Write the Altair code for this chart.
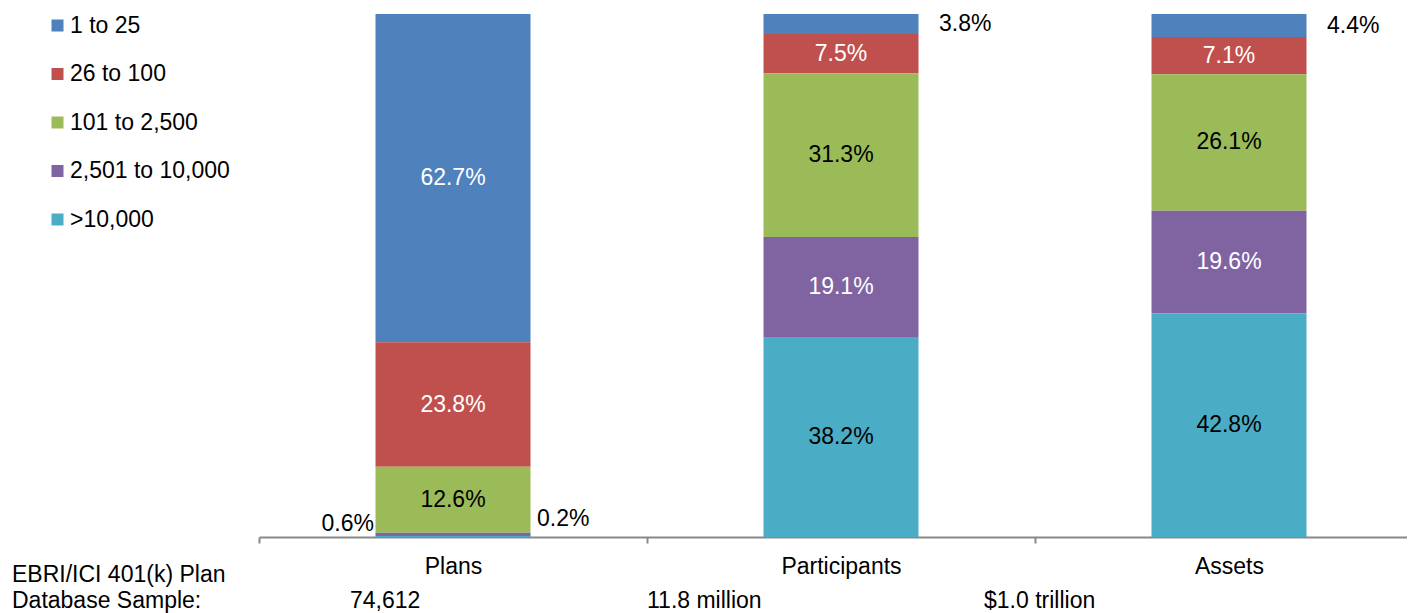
import json
import altair as alt
import pandas as pd

categories = ["Plans", "Participants", "Assets"]
groups = ["1 to 25", "26 to 100", "101 to 2,500", "2,501 to 10,000", ">10,000"]
colors = ["#4F81BD", "#C0504D", "#9BBB59", "#8064A2", "#4BACC6"]
plans = [62.7, 23.8, 12.6, 0.6, 0.2]
participants = [3.8, 7.5, 31.3, 19.1, 38.2]
assets = [4.4, 7.1, 26.1, 19.6, 42.8]
sample_title = ["EBRI/ICI 401(k) Plan", "Database Sample:"]
sample_sizes = ["74,612", "11.8 million", "$1.0 trillion"]

FONT = "Liberation Sans"
FS = 23
W = 1148          # plot width in px
STEP = 388        # px per category slot (last slot runs past the picture edge)

rows = []
for cat, vals in zip(categories, [plans, participants, assets]):
    for i, (g, v) in enumerate(zip(groups, vals)):
        rows.append(dict(category=cat, group=g, value=v,
                         k=len(groups) - 1 - i, label=f"{v:.1f}%"))
df = pd.DataFrame(rows)

cats_js = json.dumps(categories)
pos_expr = f"indexof({cats_js}, datum.category) + 0.5"

xscale = alt.Scale(domain=[0, W / STEP], nice=False, zero=False, padding=0)
xaxis = alt.Axis(
    title=None, values=[0, 0.5, 1, 1.5, 2, 2.5],
    labelExpr=f"datum.value % 1 ? {cats_js}[floor(datum.value)] : ''",
    labelOverlap=False, labelFlush=False, labelBound=False,
    labelAngle=0, labelFontSize=FS, labelFont=FONT, labelColor="black",
    labelPadding=30, labelBaseline="alphabetic",
    tickSize=6, tickColor="#888888", tickWidth=2,
    tickOpacity=alt.condition("datum.value % 1 != 0", alt.value(0), alt.value(1)),
    domainColor="#888888", domainWidth=2, grid=False)
X = alt.X("pos:Q", scale=xscale, axis=xaxis)
yscale = alt.Scale(domain=[0, 1])

base = alt.Chart(df).transform_calculate(pos=pos_expr).transform_stack(
    stack="value", groupby=["category"], sort=[alt.SortField("k", order="ascending")],
    as_=["y0", "y1"], offset="normalize"
).transform_calculate(mid="(datum.y0 + datum.y1) / 2")

bars = base.mark_bar(size=155).encode(
    x=X,
    y=alt.Y("y0:Q", scale=yscale, axis=None),
    y2="y1:Q",
    color=alt.Color("group:N", scale=alt.Scale(domain=groups, range=colors),
                    legend=alt.Legend(orient="none", legendX=-213, legendY=0, title=None,
                                      symbolType="square", symbolSize=144,
                                      symbolStrokeWidth=0, labelFontSize=FS,
                                      labelFont=FONT, labelColor="black",
                                      rowPadding=24.5, labelOffset=1, padding=0,
                                      labelLimit=400)),
)

txt_color = alt.condition(
    alt.FieldOneOfPredicate(field="group", oneOf=[groups[0], groups[1], groups[3]]),
    alt.value("white"), alt.value("black"))

inside = base.transform_filter("datum.value >= 5").mark_text(
    fontSize=FS, font=FONT, baseline="middle").encode(
    x=X, y=alt.Y("mid:Q", scale=yscale, axis=None), text="label:N", color=txt_color)

top_out = base.transform_filter(
    f"datum.value < 5 && datum.group == '{groups[0]}'").mark_text(
    fontSize=FS, font=FONT, baseline="middle", align="left", dx=98, color="black").encode(
    x=X, y=alt.Y("mid:Q", scale=yscale, axis=None), text="label:N")

bot_right = base.transform_filter(
    f"datum.value < 5 && datum.group == '{groups[4]}'").mark_text(
    fontSize=FS, font=FONT, baseline="middle", align="left", dx=84, dy=-17,
    color="black").encode(
    x=X, y=alt.Y("mid:Q", scale=yscale, axis=None), text="label:N")

bot_left = base.transform_filter(
    f"datum.value < 5 && datum.group == '{groups[3]}'").mark_text(
    fontSize=FS, font=FONT, baseline="middle", align="right", dx=-79, dy=-10,
    color="black").encode(
    x=X, y=alt.Y("mid:Q", scale=yscale, axis=None), text="label:N")

title_df = pd.DataFrame({"t": [sample_title]})
title_txt = alt.Chart(title_df).mark_text(
    fontSize=FS, font=FONT, align="left", baseline="alphabetic", lineHeight=26,
    color="black").encode(x=alt.value(-247), y=alt.value(568), text="t")

samp_df = pd.DataFrame({"category": categories, "sample": sample_sizes})
sample_dx = {"Plans": 91, "Participants": 0, "Assets": -51}
samp_layers = []
for cat in categories:
    samp_layers.append(
        alt.Chart(samp_df).transform_filter(f"datum.category == '{cat}'")
        .transform_calculate(start=f"indexof({cats_js}, datum.category)")
        .mark_text(fontSize=FS, font=FONT, align="left", baseline="alphabetic",
                   dx=sample_dx[cat], color="black").encode(
            x=alt.X("start:Q", scale=xscale, axis=xaxis),
            y=alt.value(594), text="sample:N"))

chart = alt.layer(bars, inside, top_out, bot_right, bot_left, title_txt, *samp_layers).properties(
    width=W, height=523,
    autosize=alt.AutoSizeParams(type="none"),
    padding={"left": 251, "top": 6, "right": 0, "bottom": 76},
).configure(font=FONT, view=alt.ViewConfig(stroke=None))

chart.save("out.html", embed_options={"renderer": "svg", "actions": False})
